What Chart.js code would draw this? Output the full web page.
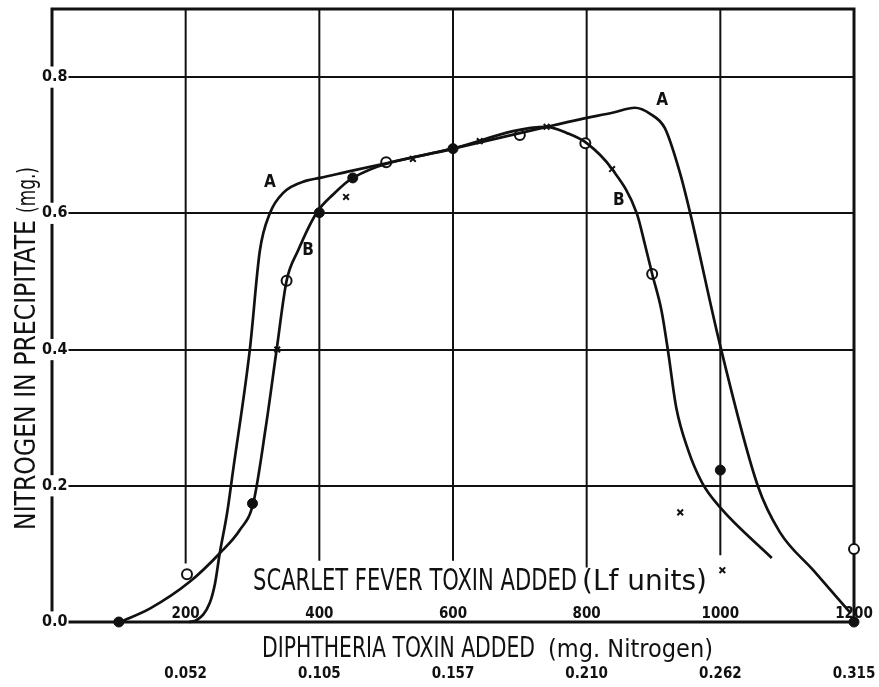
<!DOCTYPE html>
<html>
<head>
<meta charset="utf-8">
<script src="https://cdn.jsdelivr.net/npm/chart.js@4.4.1/dist/chart.umd.min.js"></script>
<style>
html,body{margin:0;padding:0;background:#fff}
#wrap{width:879px;height:687px}
</style>
</head>
<body>
<div id="wrap"><canvas id="chart" width="879" height="687"></canvas></div>
<script>
// scarlet fever toxin (Lf units) on x, N in precipitate (mg) on y
const scarletTicks=[200,400,600,800,1000,1200];
const nitrogenLabels=['','0.052','0.105','0.157','0.210','0.262','0.315'];
const gridStops=[0.086,0.09,0.09,0.08,0.098];

const curveAX=[205,217,236,244,251,262,271,296,311,326,346,381,401,446,600,740,790,840,872,895,917,940,955,1000,1056,1089,1139,1195];
const curveAY=[0,0.003,0.028,0.057,0.101,0.16,0.223,0.4,0.545,0.6,0.63,0.648,0.652,0.662,0.695,0.727,0.738,0.748,0.755,0.746,0.725,0.658,0.6,0.405,0.2,0.132,0.076,0.013];

const curveBX=[102,147,206,251,281,301,320,336,351,368,396,421,450,600,740,770,800,838,875,887,898,912,922,934,952,973,1000,1077];
const curveBY=[0,0.02,0.059,0.101,0.135,0.174,0.287,0.399,0.501,0.545,0.601,0.628,0.652,0.695,0.727,0.718,0.703,0.665,0.60,0.555,0.511,0.457,0.396,0.315,0.252,0.204,0.168,0.094];

const dotX=[100,300,400,450,600,1000,1200];
const dotY=[0,0.174,0.601,0.652,0.695,0.223,0];
const ringX=[202,351,500,700,798,898,1200];
const ringY=[0.07,0.501,0.675,0.715,0.703,0.511,0.107];
const crossX=[337,440,540,640,740,838,940,1003];
const crossY=[0.40,0.624,0.68,0.706,0.727,0.665,0.161,0.076];

const curveNames=['A','A','B','B'];
const curveNameX=[326,913,383,848];
const curveNameY=[0.645,0.765,0.545,0.618];

const toPts=(xs,ys)=>xs.map((v,i)=>({x:v,y:ys[i]}));
const ink='#111';
const cond='"DejaVu Sans Condensed","Liberation Sans Narrow",sans-serif';
const plain='"DejaVu Sans",sans-serif';

const paperPlugin={
    id:'paper',
    beforeDraw(chart){
        const {ctx,chartArea:a,scales:{x,y}}=chart;
        ctx.save();
        ctx.fillStyle='#fff';
        ctx.fillRect(0,0,chart.width,chart.height);
        ctx.strokeStyle=ink;
        ctx.lineWidth=3;
        ctx.strokeRect(a.left,a.top,a.right-a.left,a.bottom-a.top);
        ctx.lineWidth=2;
        scarletTicks.forEach((v,i)=>{
            if(i>=gridStops.length)return;
            const px=x.getPixelForValue(v);
            ctx.beginPath();
            ctx.moveTo(px,a.top);
            ctx.lineTo(px,y.getPixelForValue(gridStops[i]));
            ctx.stroke();
        });
        ctx.restore();
    },
    afterDraw(chart){
        const {ctx,chartArea:a,scales:{x,y}}=chart;
        ctx.save();
        ctx.fillStyle=ink;
        // inner scarlet fever tick labels
        ctx.font='bold 15px '+cond;
        ctx.textAlign='center';
        ctx.textBaseline='alphabetic';
        scarletTicks.forEach(v=>ctx.fillText(String(v),x.getPixelForValue(v),a.bottom-4));
        // axis captions
        ctx.textAlign='left';
        ctx.font='30px '+cond;
        ctx.fillText('SCARLET FEVER TOXIN ADDED',253,590,324);
        ctx.font='28px '+plain;
        ctx.fillText('(Lf units)',582,590,134);
        ctx.font='28px '+cond;
        ctx.fillText('DIPHTHERIA TOXIN ADDED',262,657,273);
        ctx.font='24px '+plain;
        ctx.fillText('(mg. Nitrogen)',548,657,165);
        // y caption
        ctx.save();
        ctx.translate(35,530);
        ctx.rotate(-Math.PI/2);
        ctx.font='28px '+cond;
        ctx.fillText('NITROGEN IN PRECIPITATE',0,0,310);
        ctx.font='24px '+plain;
        ctx.fillText('(mg.)',317,0,46);
        ctx.restore();
        // curve names
        ctx.font='bold 17px '+cond;
        ctx.textAlign='center';
        ctx.textBaseline='middle';
        curveNames.forEach((n,i)=>ctx.fillText(n,x.getPixelForValue(curveNameX[i]),y.getPixelForValue(curveNameY[i])));
        ctx.restore();
    }
};

function drawChart(){
    const ctx=document.getElementById('chart').getContext('2d');
    const line=(pts)=>({type:'line',data:pts,borderColor:ink,borderWidth:2.7,pointRadius:0,fill:false,cubicInterpolationMode:'monotone',clip:false});
    window.flocChart=new Chart(ctx,{
        type:'scatter',
        data:{datasets:[
            line(toPts(curveAX,curveAY)),
            line(toPts(curveBX,curveBY)),
            {data:toPts(dotX,dotY),pointStyle:'circle',pointRadius:5,backgroundColor:ink,borderColor:ink,borderWidth:1,clip:false},
            {data:toPts(ringX,ringY),pointStyle:'circle',pointRadius:5,backgroundColor:'#fff',borderColor:ink,borderWidth:2,clip:false},
            {data:toPts(ringX,ringY),pointStyle:'circle',pointRadius:1.2,backgroundColor:ink,borderColor:ink,borderWidth:0,clip:false},
            {data:toPts(crossX,crossY),pointStyle:'crossRot',pointRadius:4,borderColor:ink,borderWidth:2,clip:false}
        ]},
        options:{
            responsive:false,
            animation:false,
            layout:{padding:{top:9,right:25,left:0,bottom:0}},
            plugins:{legend:{display:false},tooltip:{enabled:false}},
            scales:{
                x:{
                    type:'linear',min:0,max:1200,
                    grid:{display:false,drawTicks:true,tickLength:41},
                    border:{display:false},
                    ticks:{stepSize:200,autoSkip:false,maxRotation:0,padding:2,color:ink,
                        font:{family:cond,size:15,weight:'bold'},
                        callback:(v,i)=>nitrogenLabels[i]||''},
                    afterFit(s){s.height=65;}
                },
                y:{
                    min:0,max:0.9,
                    grid:{color:ink,lineWidth:2,tickLength:0},
                    border:{display:false},
                    ticks:{stepSize:0.2,includeBounds:false,mirror:true,padding:-10,color:ink,
                        font:{family:cond,size:16,weight:'bold'},
                        showLabelBackdrop:true,backdropColor:'#fff',backdropPadding:1,
                        callback:v=>v.toFixed(1)},
                    afterFit(s){s.width=52;}
                }
            }
        },
        plugins:[paperPlugin]
    });
}
drawChart();
</script>
</body>
</html>
